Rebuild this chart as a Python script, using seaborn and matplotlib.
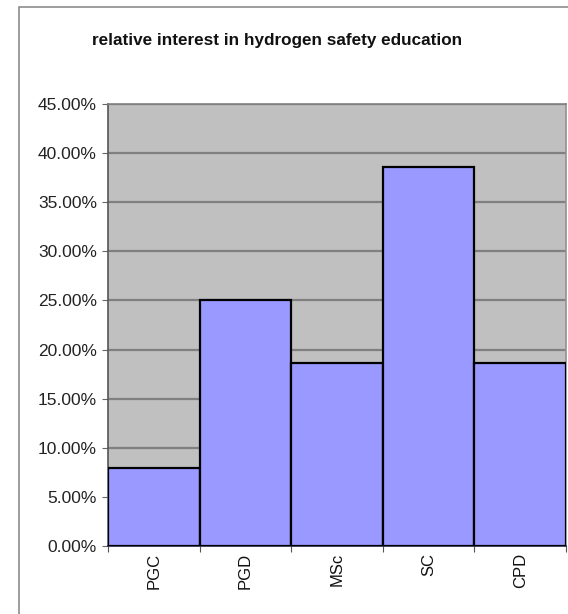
import matplotlib
matplotlib.use("Agg")
import matplotlib.pyplot as plt
import matplotlib.patches as mpatches
from matplotlib.ticker import FixedLocator, PercentFormatter
import seaborn as sns
import pandas as pd

# Share of respondents interested in each type of hydrogen safety education
programmes = ["PGC", "PGD", "MSc", "SC", "CPD"]
interest = [0.079, 0.250, 0.186, 0.386, 0.186]
y_ticks = [0.00, 0.05, 0.10, 0.15, 0.20, 0.25, 0.30, 0.35, 0.40, 0.45]
title = "relative interest in hydrogen safety education"

df = pd.DataFrame({"programme": programmes, "interest": interest})

sns.set_theme(style="white")
plt.rcParams["font.family"] = ["Liberation Sans", "DejaVu Sans"]

fig = plt.figure(figsize=(5.68, 6.14), dpi=100)
fig.patch.set_facecolor("white")

# outer chart frame
fig.patches.append(mpatches.Rectangle((19 / 568, -0.05), 1.2, (614 - 7) / 614 + 0.05,
                                      transform=fig.transFigure, fill=False,
                                      edgecolor="#8c8c8c", linewidth=1.2, zorder=0))

ax = fig.add_axes([108 / 568, 68 / 614, 458 / 568, 442 / 614])
ax.set_facecolor("#c0c0c0")

sns.barplot(data=df, x="programme", y="interest", order=programmes, ax=ax,
            color="#9999ff", saturation=1, width=1.0,
            edgecolor="black", linewidth=1.6, zorder=3)

ax.set_xlim(-0.5, len(programmes) - 0.5)
ax.set_ylim(0, 0.45)
ax.set_yticks(y_ticks)
ax.yaxis.set_major_formatter(PercentFormatter(xmax=1, decimals=2))
ax.yaxis.grid(True, color="#808080", linewidth=1.6, zorder=1)
ax.set_axisbelow(True)

# category labels at bar centres, tick marks at bar boundaries
ax.xaxis.set_major_locator(FixedLocator([i - 0.5 for i in range(len(programmes) + 1)]))
ax.xaxis.set_minor_locator(FixedLocator(list(range(len(programmes)))))
ax.set_xticklabels([""] * (len(programmes) + 1))
ax.set_xticklabels(programmes, minor=True, rotation=90, fontsize=12, color="#111111")
ax.tick_params(axis="x", which="major", direction="out", length=4, width=0.8,
               color="#555555", bottom=True)
ax.tick_params(axis="x", which="minor", length=0, pad=5, bottom=True)
ax.tick_params(axis="y", direction="out", length=4, width=0.8, color="#666666",
               labelsize=12.5, labelcolor="#222222", left=True, pad=4)

ax.set_xlabel("")
ax.set_ylabel("")

for side, col in [("left", "#555555"), ("bottom", "#222244"),
                  ("top", "#808080"), ("right", "#909090")]:
    ax.spines[side].set_visible(True)
    ax.spines[side].set_color(col)
    ax.spines[side].set_linewidth(1.2)

fig.text(277 / 568, 1 - 40 / 614, title, ha="center", va="center",
         fontsize=12.3, fontweight="bold", color="#111111")

fig.savefig("out.png", dpi=100)
